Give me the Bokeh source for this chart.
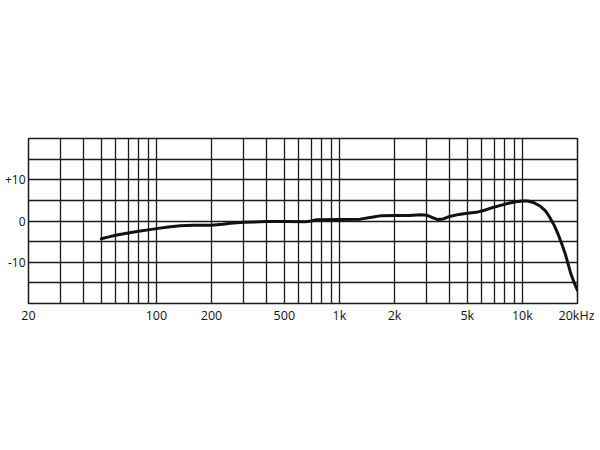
from bokeh.plotting import figure
from bokeh.models import FixedTicker, Range1d
from bokeh.embed import file_html
from bokeh.resources import INLINE

# Frequency response data (Hz, dB)
freq = [50, 55, 60, 70, 80, 90, 100, 116, 135, 160, 200, 230, 254, 300, 400, 500,
        650, 700, 750, 1000, 1300, 1500, 1700, 2000, 2400, 2800, 3000, 3200, 3450,
        3700, 4000, 4500, 5000, 5600, 6200, 6800, 7600, 8400, 9200, 10000, 10700,
        11500, 12600, 13400, 14100, 14900, 15600, 16400, 17100, 17800, 18400, 19200,
        20000]
db = [-4.3, -3.85, -3.45, -2.9, -2.5, -2.15, -1.85, -1.45, -1.15, -1.05, -1.05, -0.8,
      -0.55, -0.3, -0.15, -0.15, -0.2, 0.0, 0.3, 0.35, 0.45, 0.9, 1.3, 1.35, 1.35,
      1.5, 1.4, 0.9, 0.35, 0.5, 1.1, 1.6, 1.9, 2.1, 2.6, 3.2, 3.8, 4.3, 4.65, 4.85,
      4.85, 4.5, 3.5, 2.4, 0.9, -1.0, -3.0, -5.5, -7.8, -10.5, -12.8, -15.0, -16.8]

x_label_ticks = [20, 100, 200, 500, 1000, 2000, 5000, 10000, 20000]
x_label_text = ["20", "100", "200", "500", "1k", "2k", "5k", "10k", "20kHz"]
x_grid_ticks = [20, 30, 40, 50, 60, 70, 80, 90, 100,
                200, 300, 400, 500, 600, 700, 800, 900, 1000,
                2000, 3000, 4000, 5000, 6000, 7000, 8000, 9000, 10000, 20000]
y_label_ticks = [-10, 0, 10]
y_label_text = ["-10", "0", "+10"]
y_grid_ticks = [-20, -15, -10, -5, 0, 5, 10, 15, 20]

p = figure(width=594, height=442, x_axis_type="log",
           x_range=Range1d(20, 20000), y_range=Range1d(-20, 20),
           output_backend="svg", toolbar_location=None,
           min_border_left=28, min_border_right=17,
           min_border_top=138, min_border_bottom=139)

p.background_fill_color = "white"
p.border_fill_color = "white"
p.outline_line_color = "#1a1a1a"
p.outline_line_width = 1.5

grid_color = "#1a1a1a"
p.xgrid.ticker = FixedTicker(ticks=x_grid_ticks)
p.ygrid.ticker = FixedTicker(ticks=y_grid_ticks)
for g in (p.xgrid, p.ygrid):
    g.grid_line_color = grid_color
    g.grid_line_width = 1.3
    g.grid_line_alpha = 1.0

p.xaxis.ticker = FixedTicker(ticks=x_label_ticks)
p.xaxis.major_label_overrides = dict(zip(x_label_ticks, x_label_text))
p.yaxis.ticker = FixedTicker(ticks=y_label_ticks)
p.yaxis.major_label_overrides = dict(zip(y_label_ticks, y_label_text))

for ax in (p.xaxis, p.yaxis):
    ax.axis_line_color = None
    ax.major_tick_line_color = None
    ax.minor_tick_line_color = None
    ax.major_tick_out = 0
    ax.major_tick_in = 0
    ax.minor_tick_out = 0
    ax.minor_tick_in = 0
    ax.major_label_text_font = "Open Sans"
    ax.major_label_text_font_size = "12.5px"
    ax.major_label_text_color = "#111111"
p.xaxis.major_label_standoff = 3
p.yaxis.major_label_standoff = 3
p.yaxis.major_label_text_font_size = "12px"

p.line(freq, db, line_width=3, line_color="#111111", line_join="round", line_cap="round")

open("out.html", "w").write(file_html(p, INLINE))
